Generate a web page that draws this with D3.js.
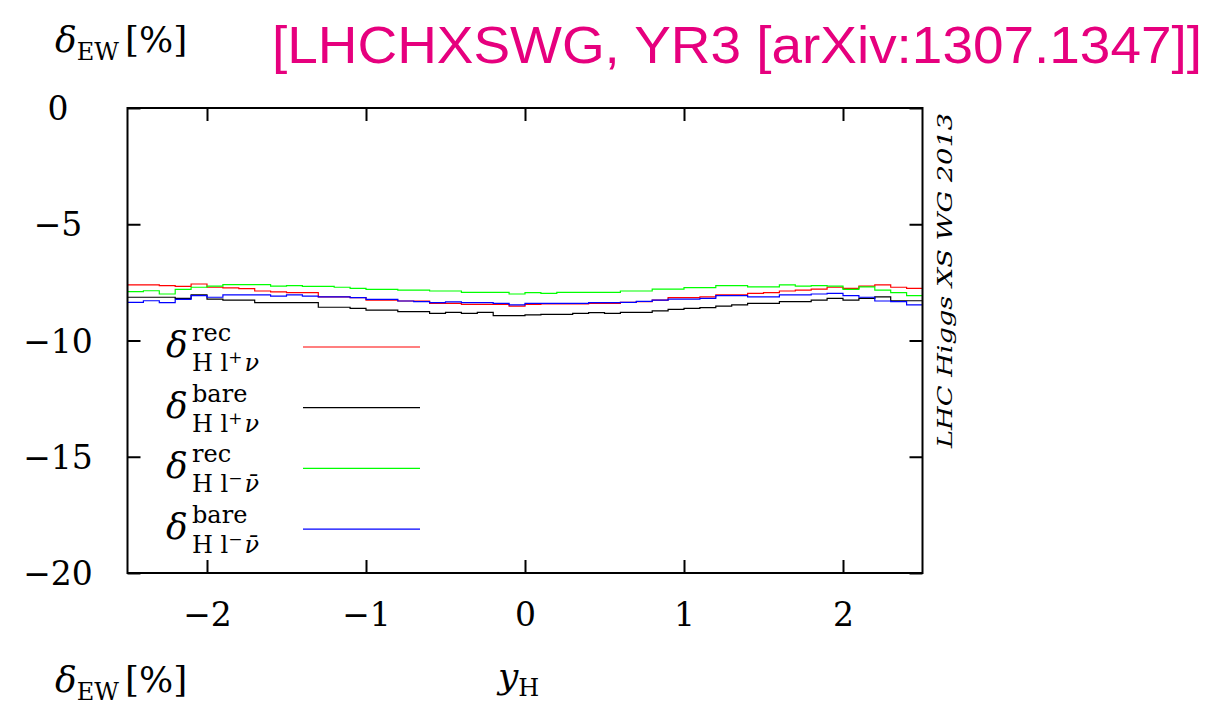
<!DOCTYPE html>
<html>
<head>
<meta charset="utf-8">
<script src="https://cdn.jsdelivr.net/npm/d3@7"></script>
<style>
  body { margin: 0; background: #fff; }
  text { font-family: "DejaVu Serif", "Liberation Serif", serif; }
</style>
</head>
<body>
<div id="plot-container"></div>
<script>
// bin edges of y_H (0.1 wide bins)
const binEdges = [-2.5,-2.4,-2.3,-2.2,-2.1,-2.0,-1.9,-1.8,-1.7,-1.6,-1.5,-1.4,-1.3,-1.2,-1.1,-1.0,-0.9,-0.8,-0.7,-0.6,-0.5,-0.4,-0.3,-0.2,-0.1,0.0,
  0.1,0.2,0.3,0.4,0.5,0.6,0.7,0.8,0.9,1.0,1.1,1.2,1.3,1.4,1.5,1.6,1.7,1.8,1.9,2.0,2.1,2.2,2.3,2.4,2.5];

// delta EW [%] per bin
const recPlus = [-7.61,-7.61,-7.64,-7.67,-7.57,-7.71,-7.74,-7.77,-7.87,-7.91,
  -7.94,-7.94,-8.12,-8.12,-8.16,-8.26,-8.26,-8.30,-8.30,-8.40,
  -8.40,-8.45,-8.45,-8.45,-8.52,-8.45,-8.43,-8.43,-8.43,-8.40,
  -8.40,-8.36,-8.33,-8.26,-8.16,-8.16,-8.12,-8.04,-8.04,-7.97,
  -7.94,-7.87,-7.83,-7.79,-7.71,-7.76,-7.66,-7.61,-7.71,-7.76];
const barePlus = [-8.14,-8.14,-8.14,-8.19,-8.04,-8.22,-8.26,-8.26,-8.37,-8.37,
  -8.37,-8.37,-8.57,-8.57,-8.62,-8.69,-8.69,-8.76,-8.76,-8.83,
  -8.79,-8.83,-8.79,-8.93,-8.93,-8.90,-8.88,-8.88,-8.83,-8.80,
  -8.83,-8.79,-8.79,-8.73,-8.66,-8.62,-8.59,-8.52,-8.47,-8.40,
  -8.40,-8.33,-8.33,-8.26,-8.19,-8.26,-8.19,-8.12,-8.29,-8.29];
const recMinus = [-7.90,-7.86,-8.00,-7.80,-7.71,-7.66,-7.60,-7.60,-7.60,-7.66,
  -7.64,-7.67,-7.67,-7.71,-7.76,-7.80,-7.80,-7.83,-7.83,-7.87,
  -7.87,-7.93,-7.93,-7.93,-8.00,-7.94,-7.97,-7.93,-7.93,-7.93,
  -7.93,-7.87,-7.87,-7.79,-7.79,-7.73,-7.73,-7.64,-7.64,-7.69,
  -7.69,-7.61,-7.66,-7.64,-7.66,-7.80,-7.69,-7.83,-7.94,-8.07];
const bareMinus = [-8.36,-8.29,-8.37,-8.23,-8.07,-8.14,-8.04,-8.04,-8.04,-8.09,
  -8.04,-8.09,-8.12,-8.12,-8.16,-8.23,-8.23,-8.30,-8.33,-8.37,
  -8.34,-8.37,-8.37,-8.40,-8.47,-8.40,-8.40,-8.40,-8.40,-8.37,
  -8.37,-8.36,-8.32,-8.26,-8.22,-8.22,-8.19,-8.07,-8.07,-8.12,
  -8.12,-8.04,-8.04,-8.00,-7.97,-8.07,-8.14,-8.30,-8.33,-8.47];

const xTicks = [-2, -1, 0, 1, 2];
const yTicks = [0, -5, -10, -15, -20];

const series = [
  { values: recPlus,   color: "#ff0000", sup: "rec",  sub: "+", nu: "ν" },
  { values: barePlus,  color: "#000000", sup: "bare", sub: "+", nu: "ν" },
  { values: recMinus,  color: "#00ff00", sup: "rec",  sub: "−", nu: "ν̄" },
  { values: bareMinus, color: "#0000ff", sup: "bare", sub: "−", nu: "ν̄" }
];

const W = 1211, H = 706;
const svg = d3.select("#plot-container").append("svg")
  .attr("width", W).attr("height", H);

const x = d3.scaleLinear().domain([-2.5, 2.5]).range([127.5, 922.5]);
const y = d3.scaleLinear().domain([-20, 0]).range([573, 108]);
const fmt = d => d3.format("d")(d).replace("-", "−");

// title
svg.append("text")
  .attr("x", 272).attr("y", 63)
  .attr("textLength", 930).attr("lengthAdjust", "spacingAndGlyphs")
  .style("font-family", "'Liberation Sans', Arial, sans-serif")
  .style("font-size", "52px")
  .attr("fill", "#e6007e")
  .text("[LHCHXSWG, YR3 [arXiv:1307.1347]]");

// delta_EW [%] labels
function deltaEW(x0, yb) {
  const t = svg.append("text").attr("x", x0).attr("y", yb).style("font-size", "36px");
  t.append("tspan").style("font-style", "italic").text("δ");
  t.append("tspan").attr("dy", 8).style("font-size", "24px").text("EW");
  t.append("tspan").attr("dy", -8).attr("dx", 6).text("[%]");
}
deltaEW(55, 52);
deltaEW(55, 692);

// y_H label
const yl = svg.append("text").attr("x", 498).attr("y", 688).style("font-size", "36px");
yl.append("tspan").style("font-style", "italic").text("y");
yl.append("tspan").attr("dy", 8).style("font-size", "24px").text("H");

// series as histogram steps
const line = d3.line()
  .x(d => x(d[0]))
  .y(d => y(d[1]))
  .curve(d3.curveStepAfter);

const plot = svg.append("g");
plot.append("clipPath").attr("id", "clip")
  .append("rect").attr("x", x(-2.5)).attr("y", y(0)).attr("width", x(2.5) - x(-2.5)).attr("height", y(-20) - y(0));

series.forEach(s => {
  const pts = s.values.map((v, i) => [binEdges[i], v]);
  pts.push([binEdges[binEdges.length - 1], s.values[s.values.length - 1]]);
  plot.append("path")
    .datum(pts)
    .attr("clip-path", "url(#clip)")
    .attr("fill", "none")
    .attr("stroke", s.color)
    .attr("stroke-width", 1.2)
    .attr("d", line);
});

// axes with inward ticks (mirrored)
const tick = 13;
const gx = svg.append("g").attr("transform", `translate(0,${y(-20)})`)
  .call(d3.axisBottom(x).tickValues(xTicks).tickSize(-tick).tickPadding(tick + 17).tickFormat(fmt));
const gxTop = svg.append("g").attr("transform", `translate(0,${y(0)})`)
  .call(d3.axisTop(x).tickValues(xTicks).tickSize(-tick).tickFormat(""));
const gy = svg.append("g").attr("transform", `translate(${x(-2.5)},0)`)
  .call(d3.axisLeft(y).tickValues(yTicks).tickSize(-tick).tickFormat(""));
const gyRight = svg.append("g").attr("transform", `translate(${x(2.5)},0)`)
  .call(d3.axisRight(y).tickValues(yTicks).tickSize(-tick).tickFormat(""));

[gx, gxTop, gy, gyRight].forEach(g => {
  g.select(".domain").remove();
  g.selectAll(".tick line").attr("stroke", "#000").attr("stroke-width", 2);
});
gx.selectAll(".tick text")
  .style("font-size", "33px").style("font-family", "'DejaVu Serif', serif").attr("fill", "#000");

// y tick labels centred in the left margin
svg.append("g").selectAll("text")
  .data(yTicks)
  .join("text")
  .attr("x", 58)
  .attr("y", d => y(d) + 12)
  .attr("text-anchor", "middle")
  .style("font-size", "33px")
  .text(fmt);

// frame
svg.append("rect")
  .attr("x", x(-2.5)).attr("y", y(0))
  .attr("width", x(2.5) - x(-2.5)).attr("height", y(-20) - y(0))
  .attr("fill", "none").attr("stroke", "#000").attr("stroke-width", 2);

// legend
const legend = svg.append("g");
series.forEach((s, i) => {
  const ly = 347 + i * 60.7;
  legend.append("line")
    .attr("x1", 303).attr("x2", 420)
    .attr("y1", ly).attr("y2", ly)
    .attr("stroke", s.color).attr("stroke-width", 1.2);
  legend.append("text")
    .attr("x", 166).attr("y", ly + 10)
    .style("font-size", "36px").style("font-style", "italic")
    .text("δ");
  legend.append("text")
    .attr("x", 192).attr("y", ly - 6)
    .style("font-size", "24px")
    .text(s.sup);
  const sb = legend.append("text")
    .attr("x", 192).attr("y", ly + 24)
    .style("font-size", "24px");
  sb.append("tspan").text("H l");
  sb.append("tspan").attr("dy", -8).style("font-size", "17px").text(s.sub);
  sb.append("tspan").attr("dy", 8).attr("dx", 2).style("font-style", "italic").text(s.nu);
});

// watermark
svg.append("text")
  .attr("transform", "translate(952,448) rotate(-90)")
  .style("font-size", "20px").style("font-style", "italic")
  .attr("textLength", 335).attr("lengthAdjust", "spacingAndGlyphs")
  .text("LHC Higgs XS WG 2013");
</script>
</body>
</html>
